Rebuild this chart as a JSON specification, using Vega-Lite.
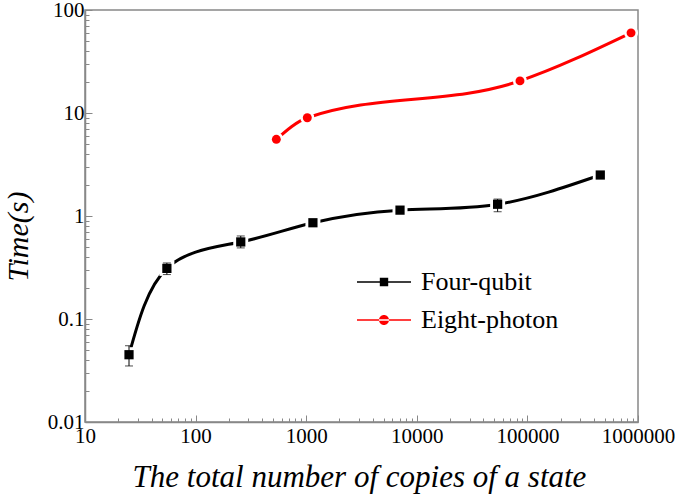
{
  "$schema": "https://vega.github.io/schema/vega-lite/v6.json",
  "width": 553,
  "height": 412,
  "autosize": "none",
  "padding": {"left": 85, "top": 10, "right": 37, "bottom": 76},
  "background": "white",
  "config": {
    "font": "Liberation Serif",
    "view": {"stroke": "#888888", "strokeWidth": 1.5},
    "axis": {"labelFont": "Liberation Serif", "titleFont": "Liberation Serif"},
    "legend": {"labelFont": "Liberation Serif"}
  },
  "data": {
    "values": [
      {"series": "Four-qubit", "n": 25, "t": 0.045, "lo": 0.035, "hi": 0.055},
      {"series": "Four-qubit", "n": 55, "t": 0.31, "lo": 0.27, "hi": 0.35},
      {"series": "Four-qubit", "n": 256, "t": 0.56, "lo": 0.49, "hi": 0.64},
      {"series": "Four-qubit", "n": 1150, "t": 0.86},
      {"series": "Four-qubit", "n": 7050, "t": 1.14},
      {"series": "Four-qubit", "n": 53800, "t": 1.3, "lo": 1.1, "hi": 1.46},
      {"series": "Four-qubit", "n": 456000, "t": 2.5},
      {"series": "Eight-photon", "n": 537, "t": 5.55},
      {"series": "Eight-photon", "n": 1023, "t": 9.0},
      {"series": "Eight-photon", "n": 85700, "t": 20.5},
      {"series": "Eight-photon", "n": 865000, "t": 60}
    ]
  },
  "encoding": {
    "x": {
      "field": "n",
      "type": "quantitative",
      "scale": {"type": "log", "domain": [10, 1000000], "nice": false},
      "axis": {
        "values": [10,20,30,40,50,60,70,80,90,100,200,300,400,500,600,700,800,900,1000,2000,3000,4000,5000,6000,7000,8000,9000,10000,20000,30000,40000,50000,60000,70000,80000,90000,100000,200000,300000,400000,500000,600000,700000,800000,900000,1000000],
        "labelExpr": "abs(log(datum.value)/LN10 - round(log(datum.value)/LN10)) < 0.001 ? format(datum.value, 'd') : ''",
        "tickSize": {"condition": {"test": "abs(log(datum.value)/LN10 - round(log(datum.value)/LN10)) < 0.001", "value": -7}, "value": -4},
        "tickColor": "#888888",
        "tickWidth": 1,
        "domainColor": "#888888",
        "domainWidth": 1.5,
        "grid": false,
        "labelFontSize": 21,
        "labelColor": "black",
        "labelPadding": 10,
        "labelFlush": false,
        "labelOverlap": false,
        "title": "The total number of copies of a state",
        "titleFontSize": 31,
        "titleFontStyle": "italic",
        "titleFontWeight": "normal",
        "titleColor": "black",
        "titleX": 274,
        "titleY": 64,
        "titleBaseline": "alphabetic",
        "titleAlign": "center"
      }
    },
    "y": {
      "field": "t",
      "type": "quantitative",
      "scale": {"type": "log", "domain": [0.01, 100], "nice": false},
      "axis": {
        "values": [0.01,0.02,0.03,0.04,0.05,0.06,0.07,0.08,0.09,0.1,0.2,0.3,0.4,0.5,0.6,0.7,0.8,0.9,1,2,3,4,5,6,7,8,9,10,20,30,40,50,60,70,80,90,100],
        "labelExpr": "abs(log(datum.value)/LN10 - round(log(datum.value)/LN10)) < 0.001 ? (datum.value < 1 ? format(datum.value, '.2~f') : format(datum.value, 'd')) : ''",
        "tickSize": {"condition": {"test": "abs(log(datum.value)/LN10 - round(log(datum.value)/LN10)) < 0.001", "value": -7}, "value": -4},
        "tickColor": "#888888",
        "tickWidth": 1,
        "domainColor": "#888888",
        "domainWidth": 1.5,
        "grid": false,
        "labelFontSize": 21,
        "labelColor": "black",
        "labelPadding": 8,
        "labelFlush": false,
        "labelOverlap": false,
        "title": "Time(s)",
        "titleFontSize": 30,
        "titleFontStyle": "italic",
        "titleFontWeight": "normal",
        "titleColor": "black",
        "titleX": -58,
        "titleY": 226,
        "titleAngle": -90,
        "titleBaseline": "alphabetic",
        "titleAlign": "center"
      }
    }
  },
  "layer": [
    {
      "transform": [{"filter": "datum.series == 'Four-qubit'"}],
      "mark": {"type": "line", "interpolate": "natural", "strokeWidth": 3},
      "encoding": {
        "color": {
          "field": "series",
          "type": "nominal",
          "scale": {"domain": ["Four-qubit", "Eight-photon"], "range": ["#000000", "#ff0000"]},
          "legend": {
            "title": null,
            "orient": "none",
            "legendX": 286,
            "legendY": 259,
            "padding": 0,
            "symbolSize": 400,
            "labelFontSize": 26,
            "labelColor": "black",
            "labelOffset": 24,
            "rowPadding": 12,
            "values": ["Four-qubit", "Eight-photon"],
            "encode": {
              "symbols": {
                "update": {
                  "shape": {"signal": "datum.value == 'Four-qubit' ? 'M-2.7,-0.075H2.7V0.075H-2.7Z M-0.42,-0.42H0.42V0.42H-0.42Z' : 'M-2.7,-0.075H2.7V0.075H-2.7Z M-0.5,0A0.5,0.5 0 1,0 0.5,0A0.5,0.5 0 1,0 -0.5,0Z'"},
                  "fill": {"signal": "datum.value == 'Four-qubit' ? '#000000' : '#ff0000'"},
                  "fillOpacity": {"value": 1},
                  "strokeWidth": {"value": 0}
                }
              }
            }
          }
        }
      }
    },
    {
      "transform": [{"filter": "datum.series == 'Eight-photon'"}],
      "mark": {"type": "line", "interpolate": "monotone", "strokeWidth": 3, "color": "#ff0000"}
    },
    {
      "transform": [{"filter": "datum.series == 'Four-qubit'"}],
      "mark": {"type": "point", "shape": "square", "size": 225, "filled": true, "color": "white", "opacity": 1}
    },
    {
      "transform": [{"filter": "datum.series == 'Eight-photon'"}],
      "mark": {"type": "point", "shape": "circle", "size": 200, "filled": true, "color": "white", "opacity": 1}
    },
    {
      "transform": [{"filter": "isValid(datum.lo)"}],
      "mark": {"type": "errorbar", "color": "black", "ticks": {"size": 8, "thickness": 1, "color": "black"}, "rule": {"strokeWidth": 1, "color": "black"}},
      "encoding": {
        "y": {"field": "lo", "type": "quantitative"},
        "y2": {"field": "hi"}
      }
    },
    {
      "transform": [{"filter": "datum.series == 'Four-qubit'"}],
      "mark": {"type": "point", "shape": "square", "size": 85, "filled": true, "color": "#000000", "opacity": 1}
    },
    {
      "transform": [{"filter": "datum.series == 'Eight-photon'"}],
      "mark": {"type": "point", "shape": "circle", "size": 80, "filled": true, "color": "#ff0000", "opacity": 1}
    }
  ]
}
